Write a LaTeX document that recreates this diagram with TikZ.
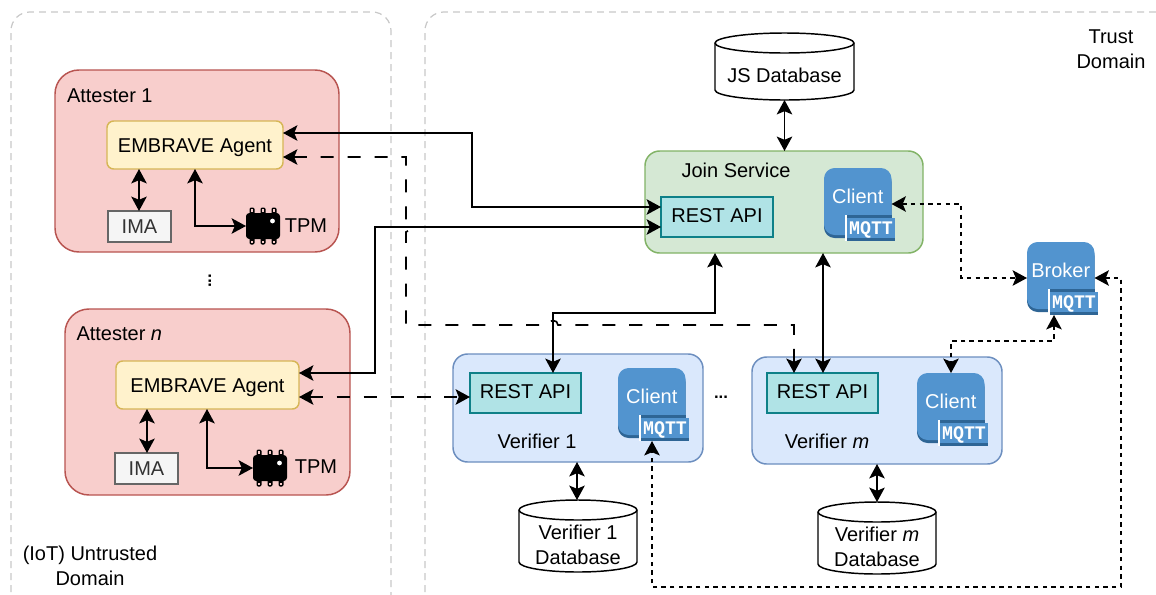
\documentclass[tikz,border=0pt]{standalone}
\usepackage{fontspec}
\setmainfont{Liberation Sans}
\newfontfamily\mqttfont{Liberation Mono}[FakeStretch=0.95]
\usetikzlibrary{arrows.meta,calc}
\definecolor{redF}{HTML}{F8CECC}\definecolor{redS}{HTML}{B85450}
\definecolor{yelF}{HTML}{FFF2CC}\definecolor{yelS}{HTML}{D6B656}
\definecolor{grnF}{HTML}{D5E8D4}\definecolor{grnS}{HTML}{82B366}
\definecolor{bluF}{HTML}{DAE8FC}\definecolor{bluS}{HTML}{6C8EBF}
\definecolor{tealF}{HTML}{B0E3E6}\definecolor{tealS}{HTML}{0E8088}
\definecolor{imaF}{HTML}{F5F5F5}\definecolor{imaS}{HTML}{666666}\definecolor{imaT}{HTML}{333333}
\definecolor{awsB}{HTML}{5294CF}\definecolor{awsD}{HTML}{2E6595}
\definecolor{domS}{HTML}{C8C8C8}
\tikzset{
  wh/.style 2 args={minimum width=#1*0.75pt,minimum height=#2*0.75pt},
  box/.style={draw,anchor=north west,inner sep=0pt,outer sep=0pt,line width=1.1pt,font=\fontsize{15}{18.75}\selectfont,align=center,text height=10.8pt,text depth=0pt},
  attbox/.style={box,fill=redF,draw=redS,rounded corners=18pt},
  agentbox/.style={box,fill=yelF,draw=yelS,rounded corners=5pt},
  imabox/.style={box,fill=imaF,draw=imaS,text=imaT},
  joinbox/.style={box,fill=grnF,draw=grnS,rounded corners=11pt},
  verbox/.style={box,fill=bluF,draw=bluS,rounded corners=11pt},
  restbox/.style={box,fill=tealF,draw=tealS,text depth=2.6pt},
  txt/.style={font=\fontsize{15}{18.75}\selectfont,align=center,inner sep=0pt,outer sep=0pt},
  domainbox/.style={draw=domS,line width=0.9pt,dash pattern=on 5.2pt off 3.8pt,rounded corners=14pt},
  link/.style={line width=1.25pt,>={Stealth[length=10.8pt,width=11.6pt,inset=2.4pt]}},
  longdash/.style={link,dash pattern=on 9.8pt off 10.4pt},
  shortdash/.style={link,dash pattern=on 3.4pt off 3.1pt},
}
% chip: name, x, y of body top-left
\newcommand{\tpmchip}[3]{%
  \foreach \px in {6,17,28}{%
    \fill[black,rounded corners=1pt] (#2+\px-2.5,#3-5.5) rectangle (#2+\px+2.5,#3+3);
    \fill[black,rounded corners=1pt] (#2+\px-2.5,#3+24) rectangle (#2+\px+2.5,#3+31.5);
    \fill[redF] (#2+\px-1.1,#3-3.7) rectangle (#2+\px+1.1,#3-1);
    \fill[redF] (#2+\px-1.1,#3+27.5) rectangle (#2+\px+1.1,#3+29.8);
  }%
  \node[anchor=north west,fill=black,rounded corners=2.5pt,inner sep=0pt,outer sep=0pt,wh={34}{26}] (#1) at (#2,#3) {};
  \fill[white] (#2+26.5,#3+8) circle[radius=1.8pt];
}
% mqtt icon: name, x, y, text
\newcommand{\mqtticon}[4]{%
  \fill[awsD,rounded corners=8pt] (#2,#3+3) rectangle (#2+67.5,#3+70);
  \node[anchor=north west,fill=awsB,rounded corners=8pt,inner sep=0pt,outer sep=0pt,wh={67.5}{67},
        label={[text=white,txt,yshift=4pt]center:#4}] (#1) at (#2,#3) {};
  \fill[awsD] (#2+21,#3+47) rectangle (#2+67.5,#3+50);
  \fill[white] (#2+21,#3+47) rectangle (#2+23,#3+73);
  \node[anchor=north west,fill=awsB,inner sep=0pt,outer sep=0pt,wh={48}{23},text=white,
        font=\mqttfont\bfseries\fontsize{14.4}{14.4}\selectfont] (#1b) at (#2+23,#3+50) {MQTT};
  \fill[awsD] (#2+23,#3+70) rectangle (#2+71,#3+73);
}
% cylinder: name, left, top, width, height, text
\newcommand{\dbcyl}[6]{%
  \pgfmathsetmacro{\cL}{#2}\pgfmathsetmacro{\cT}{#3}\pgfmathsetmacro{\cR}{#2+#4}\pgfmathsetmacro{\cB}{#3+#5}
  \pgfmathsetmacro{\cC}{#2+#4/2}\pgfmathsetmacro{\kx}{0.552*#4/2}
  \draw[line width=1.1pt,fill=white]
    (\cL,\cT+10) .. controls (\cL,\cT+4.5) and (\cC-\kx,\cT) .. (\cC,\cT)
    .. controls (\cC+\kx,\cT) and (\cR,\cT+4.5) .. (\cR,\cT+10)
    -- (\cR,\cB-10) .. controls (\cR,\cB-4.5) and (\cC+\kx,\cB) .. (\cC,\cB)
    .. controls (\cC-\kx,\cB) and (\cL,\cB-4.5) .. (\cL,\cB-10) -- cycle;
  \draw[line width=1.1pt]
    (\cL,\cT+10) .. controls (\cL,\cT+15.5) and (\cC-\kx,\cT+20) .. (\cC,\cT+20)
    .. controls (\cC+\kx,\cT+20) and (\cR,\cT+15.5) .. (\cR,\cT+10);
  \node[anchor=north west,inner sep=0pt,outer sep=0pt,wh={#4}{#5},
        label={[txt,yshift=-7pt]center:#6}] (#1) at (\cL,\cT) {};
}
\begin{document}
\begin{tikzpicture}[x=0.75pt,y=-0.75pt]
\useasboundingbox (0,0) rectangle (1156,594);
\fill[white] (0,0) rectangle (1156,594);
\clip (0,0) rectangle (1156,594);

% domains
\draw[domainbox] (11,640) -- (11,12) -- (391,12) -- (391,640);
\draw[domainbox] (425,640) -- (425,12) -- (1175,12) -- (1175,640);
\node[txt] (trustlbl) at (1111,49) {Trust\\Domain};
\node[txt] (untrustlbl) at (90,565.5) {(IoT) Untrusted\\Domain};

% attester 1
\node[attbox,wh={284}{182}] (att1) at (55,70) {};
\node[txt,anchor=west] (att1lbl) at (67,95.5) {Attester 1};
\node[agentbox,wh={176}{48}] (ag1) at (107,121) {EMBRAVE Agent};
\node[imabox,wh={63}{31}] (ima1) at (108,211) {IMA};
\tpmchip{tpm1}{246}{213}
\node[txt] (tpm1lbl) at (306,225.5) {TPM};
\node[font=\bfseries\fontsize{12.5}{12.5}\selectfont,rotate=90,inner sep=0pt] (vdots) at (210,281) {...};

% attester n
\node[attbox,wh={285}{186}] (attn) at (65,309) {};
\node[txt,anchor=west] (attnlbl) at (76.5,333.5) {Attester \textit{n}};
\node[agentbox,wh={183}{48}] (agn) at (116,361) {EMBRAVE Agent};
\node[imabox,wh={63}{31}] (iman) at (115,453) {IMA};
\tpmchip{tpmn}{253}{455}
\node[txt] (tpmnlbl) at (316,467) {TPM};

% join service
\node[joinbox,wh={278}{102}] (join) at (645,151) {};
\node[txt] (joinlbl) at (736,170) {Join Service};
\node[restbox,wh={112}{40}] (restj) at (661,197) {REST API};
\mqtticon{clj}{824}{168}{Client}

% broker
\mqtticon{brk}{1027}{242}{Broker}

% verifier 1
\node[verbox,wh={250}{108}] (ver1) at (453,354) {};
\node[txt] (ver1lbl) at (537,441) {Verifier 1};
\node[restbox,wh={111}{40}] (rest1) at (470,373) {REST API};
\mqtticon{cl1}{618}{368}{Client}

% verifier m
\node[verbox,wh={250}{107}] (verm) at (752,357) {};
\node[txt] (vermlbl) at (827,441) {Verifier \textit{m}};
\node[restbox,wh={111}{40}] (restm) at (767,373) {REST API};
\mqtticon{clm}{917}{373}{Client}
\node[font=\bfseries\fontsize{12.5}{12.5}\selectfont,inner sep=0pt] (hdots) at (721,397) {...};

% databases
\dbcyl{jsdb}{715}{33}{139}{67}{JS Database}
\dbcyl{v1db}{519}{500}{118}{72}{Verifier 1\\Database}
\dbcyl{vmdb}{818}{502}{118}{72}{Verifier \textit{m}\\Database}

% connectors
\draw[link,<->] (ima1.north -| 139,0) -- (ag1.south -| 139,0);
\draw[link,<->] (ag1.south -| 195,0) -- (195,226) -- (tpm1.west |- 0,226);
\draw[link,<->] (iman.north -| 147,0) -- (agn.south -| 147,0);
\draw[link,<->] (agn.south -| 207,0) -- (207,468) -- (tpmn.west |- 0,468);

\draw[link,<->] (ag1.east |- 0,133) -- (472,133) -- (472,207) -- (restj.west |- 0,207);
\draw[link,<->] (agn.east |- 0,373) -- (375,373) -- (375,227) -- (restj.west |- 0,227);
\draw[link,<->] (join.south -| 715,0) -- (715,313) -- (553,313) -- (rest1.north -| 553,0);
\draw[link,<->] (join.south -| 823,0) -- (restm.north -| 823,0);
\draw[link,<->] (jsdb.south) -- (join.north -| jsdb.south);
\draw[link,<->] (ver1.south -| 577,0) -- (v1db.north -| 577,0);
\draw[link,<->] (verm.south -| 877,0) -- (vmdb.north -| 877,0);

\draw[longdash,<->] (ag1.east |- 0,157) -- (406,157) -- (406,222)
   .. controls (411,222) and (411,232) .. (406,232) -- (406,325) -- (548,325)
   .. controls (548,319) and (558,319) .. (558,325) -- (794,325) -- (restm.north -| 794,0);
\draw[longdash,<->] (agn.east |- 0,397) -- (rest1.west |- 0,397);

\draw[shortdash,<->] (clj.east |- 0,204) -- (961,204) -- (961,278) -- (brk.west |- 0,278);
\draw[shortdash,<->] (brkb.south -| 1054,0) -- (1054,341) -- (951,341) -- (clm.north -| 951,0);
\draw[shortdash,<->] (brk.east |- 0,278) -- (1121,278) -- (1121,587) -- (652,587) -- (cl1b.south -| 652,0);
\end{tikzpicture}
\end{document}
